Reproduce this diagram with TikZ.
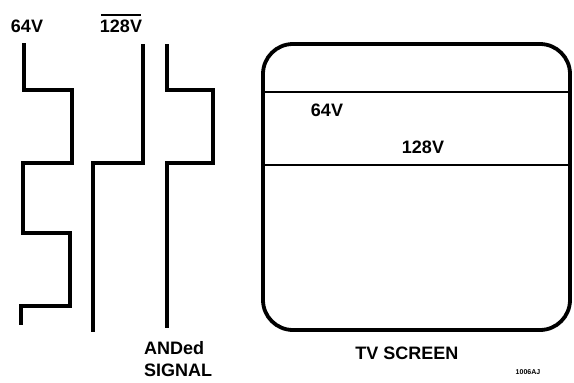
\documentclass[tikz,border=0pt]{standalone}
\usepackage{fontspec}
\setmainfont{Liberation Sans}
\begin{document}
\begin{tikzpicture}[x=1pt,y=-1pt,
  wave/.style={line width=3.6pt,line join=miter},
  lbl/.style={font=\fontsize{18}{22}\bfseries,inner sep=0pt},
  small/.style={font=\fontsize{7}{8}\bfseries,inner sep=0pt}]
\useasboundingbox (0,0) rectangle (574,383);
% 64V waveform
\draw[wave] (24,43) -- (24,90) -- (72,90) -- (72,163) -- (23,163) -- (23,233) -- (70,233) -- (70,306) -- (21,306) -- (21,325);
\node[lbl] (l64) at (27,26) {64V};
\draw[wave] (143,44) -- (143,163) -- (93,163) -- (93,332);
\node[lbl] (l128) at (121,26) {128V};
\draw[line width=2pt] (l128.north west) ++(1,-4) -- ([xshift=-1pt,yshift=4pt]l128.north east);
% ANDed waveform
\draw[wave] (167,44) -- (167,90) -- (213,90) -- (213,163) -- (167,163) -- (167,328);
\node[lbl,align=left,anchor=north west] (land) at (144,341) {ANDed\\SIGNAL};
% TV screen
\draw[line width=3.8pt,rounded corners=30pt] (263,44) rectangle (570,330);
\draw[line width=2.6pt] (263,92) -- (570,92);
\draw[line width=2.6pt] (263,165) -- (570,165);
\node[lbl] (s64) at (327,110) {64V};
\node[lbl] (s128) at (423,147) {128V};
\node[lbl] (tv) at (407,353) {TV SCREEN};
\node[small] (code) at (528,372) {1006AJ};
\end{tikzpicture}
\end{document}
